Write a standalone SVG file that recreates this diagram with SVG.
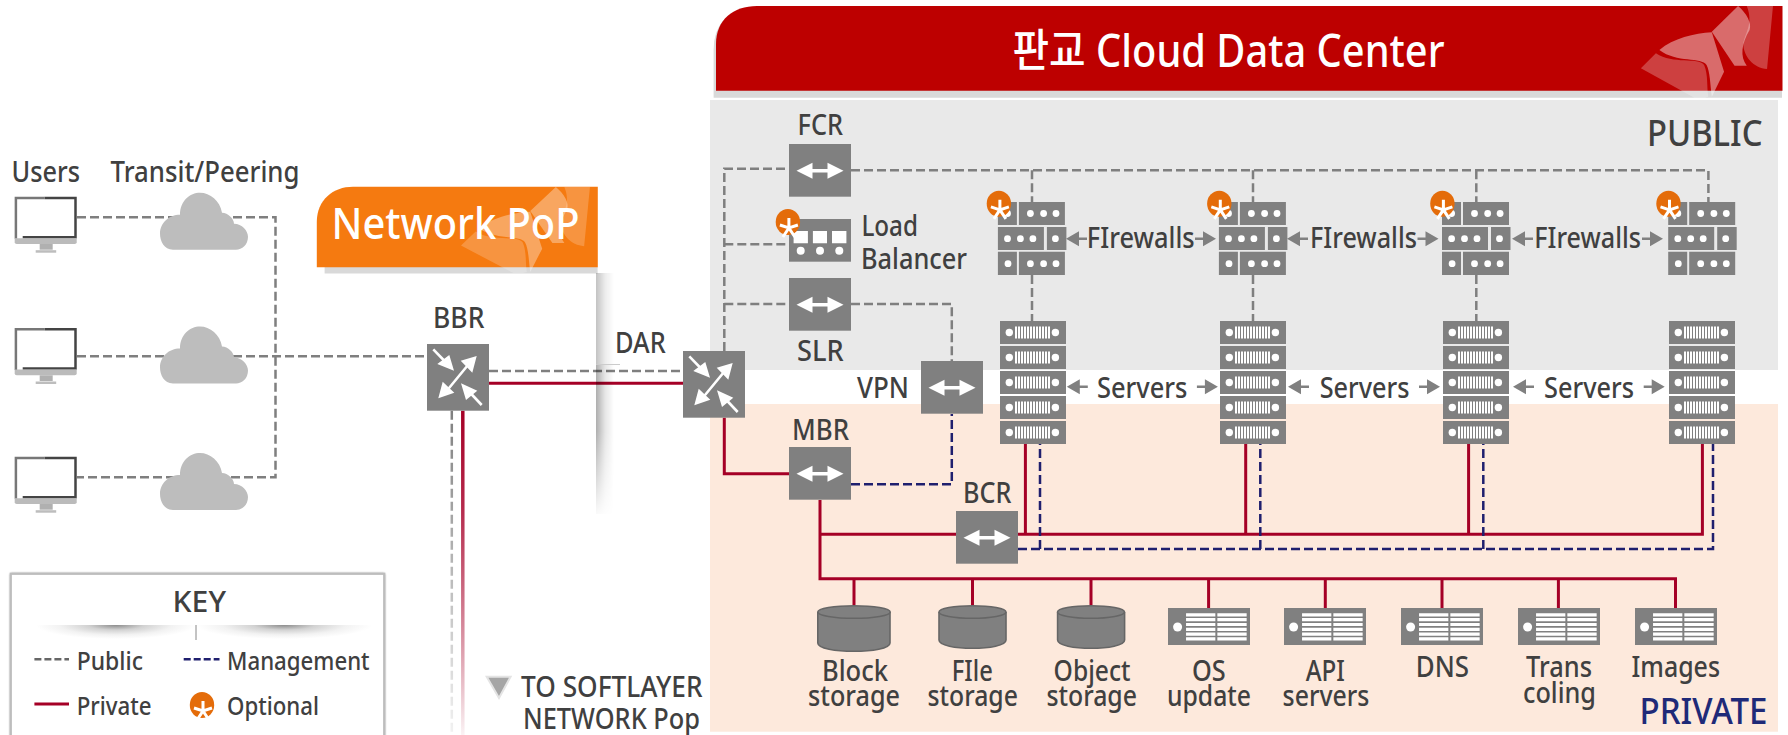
<svg xmlns="http://www.w3.org/2000/svg" xmlns:xlink="http://www.w3.org/1999/xlink" width="1788" height="735" viewBox="0 0 1788 735">
<style>
text{font-family:"Noto Sans","Noto Sans CJK KR",sans-serif;fill:#404040;font-size:28px;font-weight:500}
.box{fill:#808080}
.pub{fill:none;stroke:#7f7f7f;stroke-width:2.5;stroke-dasharray:9 4}
.mgt{fill:none;stroke:#1f1f6e;stroke-width:2.5;stroke-dasharray:9 4}
.prv{fill:none;stroke:#a50026;stroke-width:3}
.w{fill:#fff}
.ws{stroke:#fff;fill:none}
.c{fill:#808080}
</style>
<defs>
<linearGradient id="shade" x1="0" x2="1" y1="0" y2="0"><stop offset="0" stop-color="#000" stop-opacity=".32"/><stop offset=".5" stop-color="#000" stop-opacity=".1"/><stop offset="1" stop-color="#000" stop-opacity="0"/></linearGradient>
<linearGradient id="vfade" x1="0" x2="0" y1="0" y2="1"><stop offset="0" stop-color="#fff"/><stop offset=".45" stop-color="#fff"/><stop offset="1" stop-color="#fff" stop-opacity=".06"/></linearGradient>
<mask id="shadeMask" maskUnits="userSpaceOnUse" x="590" y="270" width="30" height="250"><rect x="590" y="364" width="30" height="150" fill="url(#vfade)"/><rect x="590" y="270" width="30" height="94" fill="#fff" fill-opacity=".75"/></mask>
<radialGradient id="div" cx="0" cy="0" r="1" gradientTransform="translate(.5 0) scale(.5 1)"><stop offset="0" stop-color="#8c8c8c"/><stop offset=".35" stop-color="#d2d2d2"/><stop offset=".7" stop-color="#f2f2f2"/><stop offset="1" stop-color="#fff"/></radialGradient>
<linearGradient id="fadeR" gradientUnits="userSpaceOnUse" x1="0" x2="0" y1="410" y2="735"><stop offset="0" stop-color="#a50026"/><stop offset=".3" stop-color="#b52a4c"/><stop offset="1" stop-color="#a50026" stop-opacity=".05"/></linearGradient>
<linearGradient id="fadeG" gradientUnits="userSpaceOnUse" x1="0" x2="0" y1="410" y2="735"><stop offset="0" stop-color="#7f7f7f"/><stop offset="1" stop-color="#7f7f7f" stop-opacity=".1"/></linearGradient>
<filter id="soft" x="-5%" y="-5%" width="110%" height="110%"><feGaussianBlur stdDeviation="1.2"/></filter>
<g id="monitor">
<rect x="0" y="0" width="62" height="42" fill="#fff"/>
<path d="M1.2 42V1.2H30" fill="none" stroke="#777" stroke-width="2.5"/>
<path d="M30 1.2H60.8V40.5H8" fill="none" stroke="#444" stroke-width="2.5"/>
<path d="M0 41.5H62V45.5Q62 47.3 60 47.3H2Q0 47.3 0 45.5Z" fill="#bbb"/>
<path d="M25 47.3H38L38 53H25Z" fill="#b0b0b0"/>
<rect x="21" y="53.5" width="20.5" height="2.5" fill="#bdbdbd"/>
</g>
<path id="cloud" fill="#bdbdbd" d="M13 57C4 57 0 48 0 41C0 30 9 22 20 22C20 8 30 0 40 0C50 0 60 8 62 20C68 20 74 26 74 31C82 31 88 38 88 44C88 52 82 57 76 57Z"/>
<g id="star" stroke="#fff" stroke-width="3" fill="none"><path d="M0 -10V0M-9 -3L0 0L9 -3M-6 9L0 0L6 9"/></g>
<g id="opt"><ellipse cx="0" cy="0" rx="12.2" ry="13" fill="#e46c0a"/><use xlink:href="#star" href="#star" x="1" y="6"/></g>
<g id="dar">
<rect class="box" width="62" height="66.7"/>
<path class="ws" stroke-width="2.6" d="M6.3 5.3L20 19.5M54.7 61L41 46.5M20 46.5L41 21"/>
<path class="w" d="M27 26.7L10.3 20L22.3 11ZM34 39.3L50.3 46.7L39 56ZM49.7 12L33.7 16.7L45.3 28.7ZM11.3 54.3L15.7 37.7L27.3 48.7Z"/>
</g>
<g id="sw">
<rect class="box" width="62" height="52.7"/>
<path class="w" d="M7.5 26.7L23.5 18.7V25H38.5V18.7L54.5 26.7L38.5 34.7V28.4H23.5V34.7Z"/>
</g>
<g id="fw">
<path class="box" d="M0 0H19V23H0ZM21 0H67V23H21ZM0 25H46V48H0ZM49 25H68.5V48H49ZM0 49.7H19V73H0ZM21 49.7H67V73H21Z"/>
<g class="w"><circle cx="9.6" cy="11.5" r="3.4"/><circle cx="32.5" cy="11.5" r="3.4"/><circle cx="45.7" cy="11.5" r="3.4"/><circle cx="58.1" cy="11.5" r="3.4"/>
<circle cx="9.6" cy="36.7" r="3.4"/><circle cx="22.5" cy="36.7" r="3.4"/><circle cx="35" cy="36.7" r="3.4"/><circle cx="57.5" cy="36.7" r="3.4"/>
<circle cx="10.1" cy="61.7" r="3.4"/><circle cx="32.5" cy="61.7" r="3.4"/><circle cx="45.7" cy="61.7" r="3.4"/><circle cx="58.1" cy="61.7" r="3.4"/></g>
</g>
<g id="srow"><rect class="box" width="66" height="23"/><circle class="w" cx="9.3" cy="11.5" r="3.7"/><circle class="w" cx="55.4" cy="11.5" r="3.7"/><path d="M15 11.5H50" stroke="#fff" stroke-width="12" stroke-dasharray="2 1"/></g>
<g id="server"><use xlink:href="#srow" href="#srow" y="0"/><use xlink:href="#srow" href="#srow" y="25"/><use xlink:href="#srow" href="#srow" y="50"/><use xlink:href="#srow" href="#srow" y="75"/><use xlink:href="#srow" href="#srow" y="100"/></g>
<g id="host"><rect class="box" width="82" height="37"/><circle class="w" cx="9.6" cy="19" r="4.5"/><path d="M32.7 5.3V33M64 5.3V33" stroke="#fff" stroke-width="29.3" stroke-dasharray="3.2 1.6" fill="none"/></g>
<g id="wm">
<path fill="#fff" fill-opacity=".42" d="M1350 95L1425 18C1450 40 1465 70 1458 90C1435 130 1430 170 1450 197H1415Z"/>
<path fill="#fff" fill-opacity=".25" d="M1450 18H1525L1508 207C1470 205 1440 170 1440 130C1445 100 1470 70 1450 18Z"/>
<path fill="#fff" fill-opacity=".42" d="M1200 150C1240 115 1300 100 1350 97L1385 215L1350 290C1345 250 1345 215 1335 195C1320 170 1250 190 1200 150Z"/>
<path fill="#fff" fill-opacity=".25" d="M1147 205L1190 160C1240 195 1310 170 1328 195C1340 225 1335 260 1340 290L1330 293H1300Z"/>
</g>
<g id="lhead"><path class="c" d="M0 0L13 -7.5V-1.2H21V1.2H13V7.5Z"/></g>
</defs>

<rect width="1788" height="735" fill="#fff"/>

<g id="zone-public"><rect x="710" y="100" width="1068" height="270" fill="#e9e9e9"/><text x="1647" y="145.7" textLength="115.5" lengthAdjust="spacingAndGlyphs" style="font-size:37px">PUBLIC</text></g>
<g id="zone-private"><rect x="710" y="404" width="1068" height="327.7" fill="#fde9dc"/><text x="1639.5" y="724" textLength="128" lengthAdjust="spacingAndGlyphs" style="font-size:37px;fill:#1f2a78">PRIVATE</text></g>

<g id="header-dc">
<path d="M713.6 97.7V50Q713.6 12 752 9L1782 9V97.7Z" fill="#d9d9d9"/>
<path d="M716 90.7V44C716 20 733 6 757 6H1782.5V90.7Z" fill="#bd0000"/>
<use xlink:href="#wm" href="#wm" transform="translate(1240 0) scale(.3495 .3333)"/>
<text x="1012.5" y="66.7" textLength="432" lengthAdjust="spacingAndGlyphs" style="font-size:45px;fill:#fff">판교 Cloud Data Center</text>
</g>

<g id="header-pop">
<rect x="324.6" y="267" width="273" height="6.5" fill="#d9d9d9"/>
<path d="M316.8 267.3V222C316.8 200 333 186.7 353 186.7H597.8V267.3Z" fill="#f57a10"/>
<use xlink:href="#wm" href="#wm" opacity=".8" transform="translate(69.9 181.4) scale(.341 .3127)"/>
<text x="331.5" y="239.3" textLength="248" lengthAdjust="spacingAndGlyphs" style="font-size:44px;fill:#fff">Network PoP</text>
</g>

<g id="connectors">
<path class="pub" d="M77 217.3H275.5V477.3H77"/>
<path class="pub" d="M77 356.3H427"/>
<path class="pub" d="M489 371H683"/>
<path class="prv" d="M489 383.3H683"/>
<path d="M451.8 410.7V735" fill="none" stroke="url(#fadeG)" stroke-width="2.5" stroke-dasharray="9 4"/>
<path d="M462.8 410.7V735" fill="none" stroke="url(#fadeR)" stroke-width="3.5"/>
<path class="pub" d="M724.3 351V168.7H789"/>
<path class="pub" d="M724.3 244.3H789"/>
<path class="pub" d="M724.3 304H789"/>
<path class="pub" d="M851 304H951.8V361"/>
<path class="pub" d="M851 170.3H1708.4V202"/>
<path class="pub" d="M1032 170.3V202M1253 170.3V202M1476.3 170.3V202"/>
<path class="pub" d="M1032 275V321M1253 275V321M1476.3 275V321"/>
<path class="prv" d="M724.3 417.7V473.7H789"/>
<path class="prv" d="M820 500V578.7H1675.5V608"/>
<path class="prv" d="M820 534.3H956"/>
<path class="prv" d="M1018 534.3H1702.4V443.7"/>
<path class="prv" d="M1025.4 443.7V534.3M1245.7 443.7V534.3M1468.6 443.7V534.3"/>
<path class="prv" d="M854 578.7V605M972.5 578.7V605M1091 578.7V605M1208.6 578.7V608M1325.3 578.7V608M1442 578.7V608M1558.4 578.7V608"/>
<path class="mgt" d="M851 484.3H951.8V414"/>
<path class="mgt" d="M1018 549H1713V443.7"/>
<path class="mgt" d="M1040 549V443.7M1260.3 549V443.7M1483.3 549V443.7"/>
</g>

<g id="pop-shadow" mask="url(#shadeMask)"><rect x="596" y="273" width="18" height="241" fill="url(#shade)"/></g>
<path id="pop-shadow-edge" d="M596 364.5H620" stroke="#ccc" stroke-width="1"/>

<g id="users"><text x="11.5" y="181.7" textLength="68.5" lengthAdjust="spacingAndGlyphs">Users</text>
<use xlink:href="#monitor" href="#monitor" x="14.7" y="196.7"/><use xlink:href="#monitor" href="#monitor" x="14.7" y="328"/><use xlink:href="#monitor" href="#monitor" x="14.7" y="456.7"/></g>
<g id="transit"><text x="110.5" y="181.7" textLength="189" lengthAdjust="spacingAndGlyphs">Transit/Peering</text>
<use xlink:href="#cloud" href="#cloud" x="160" y="192.7"/><use xlink:href="#cloud" href="#cloud" x="160" y="326.5"/><use xlink:href="#cloud" href="#cloud" x="160" y="453"/></g>

<g id="bbr"><text x="433" y="328.3" textLength="51.4" lengthAdjust="spacingAndGlyphs">BBR</text><use xlink:href="#dar" href="#dar" x="427" y="344"/></g>
<g id="dar-node"><text x="615" y="353.3" textLength="50.7" lengthAdjust="spacingAndGlyphs">DAR</text><use xlink:href="#dar" href="#dar" x="683" y="351"/></g>
<g id="fcr"><text x="797.5" y="135" textLength="45.5" lengthAdjust="spacingAndGlyphs">FCR</text><use xlink:href="#sw" href="#sw" x="789" y="144"/></g>
<g id="slr"><text x="797" y="360.7" textLength="46.6" lengthAdjust="spacingAndGlyphs">SLR</text><use xlink:href="#sw" href="#sw" x="789" y="278"/></g>
<g id="vpn"><text x="857" y="398.3" textLength="52" lengthAdjust="spacingAndGlyphs">VPN</text><use xlink:href="#sw" href="#sw" x="921" y="361"/></g>
<g id="mbr"><text x="792" y="440" textLength="57" lengthAdjust="spacingAndGlyphs">MBR</text><use xlink:href="#sw" href="#sw" x="789" y="447"/></g>
<g id="bcr"><text x="963" y="502.7" textLength="48.4" lengthAdjust="spacingAndGlyphs">BCR</text><use xlink:href="#sw" href="#sw" x="956" y="511"/></g>

<g id="load-balancer">
<rect class="box" x="789" y="219" width="62" height="42.7"/>
<path class="w" d="M793.6 231H807.9V243.3H793.6ZM812.9 231H827V243.3H812.9ZM832 231H846.4V243.3H832Z"/>
<circle class="w" cx="800.7" cy="250.7" r="4"/><circle class="w" cx="820" cy="250.7" r="4"/><circle class="w" cx="839.3" cy="250.7" r="4"/>
<use xlink:href="#opt" href="#opt" x="787.9" y="222"/>
<text x="861.4" y="236" textLength="56.6" lengthAdjust="spacingAndGlyphs">Load</text>
<text x="861" y="268.7" textLength="106" lengthAdjust="spacingAndGlyphs">Balancer</text>
</g>

<g id="firewall-1"><use xlink:href="#fw" href="#fw" x="997.9" y="202"/><use xlink:href="#opt" href="#opt" x="998.9" y="203.8"/></g>
<g id="firewall-2"><use xlink:href="#fw" href="#fw" x="1218.9" y="202"/><use xlink:href="#opt" href="#opt" x="1219.3" y="203.8"/></g>
<g id="firewall-3"><use xlink:href="#fw" href="#fw" x="1442" y="202"/><use xlink:href="#opt" href="#opt" x="1442.4" y="203.8"/></g>
<g id="firewall-4"><use xlink:href="#fw" href="#fw" x="1668.2" y="202"/><use xlink:href="#opt" href="#opt" x="1668.5" y="203.8"/></g>

<g id="firewall-labels">
<use xlink:href="#lhead" href="#lhead" transform="translate(1066 238.7)"/><use xlink:href="#lhead" href="#lhead" transform="translate(1216 238.7) scale(-1 1)"/>
<use xlink:href="#lhead" href="#lhead" transform="translate(1287 238.7)"/><use xlink:href="#lhead" href="#lhead" transform="translate(1438.5 238.7) scale(-1 1)"/>
<use xlink:href="#lhead" href="#lhead" transform="translate(1512 238.7)"/><use xlink:href="#lhead" href="#lhead" transform="translate(1663 238.7) scale(-1 1)"/>
<text x="1086.8" y="248.3" textLength="107.8" lengthAdjust="spacingAndGlyphs">FIrewalls</text>
<text x="1310" y="248.3" textLength="107" lengthAdjust="spacingAndGlyphs">FIrewalls</text>
<text x="1534.3" y="248.3" textLength="106.7" lengthAdjust="spacingAndGlyphs">FIrewalls</text>
</g>

<g id="server-1"><use xlink:href="#server" href="#server" x="1000" y="321"/></g>
<g id="server-2"><use xlink:href="#server" href="#server" x="1220" y="321"/></g>
<g id="server-3"><use xlink:href="#server" href="#server" x="1443" y="321"/></g>
<g id="server-4"><use xlink:href="#server" href="#server" x="1669" y="321"/></g>

<g id="server-labels">
<use xlink:href="#lhead" href="#lhead" transform="translate(1066.8 386.7)"/><use xlink:href="#lhead" href="#lhead" transform="translate(1217.9 386.7) scale(-1 1)"/>
<use xlink:href="#lhead" href="#lhead" transform="translate(1288 386.7)"/><use xlink:href="#lhead" href="#lhead" transform="translate(1440 386.7) scale(-1 1)"/>
<use xlink:href="#lhead" href="#lhead" transform="translate(1513 386.7)"/><use xlink:href="#lhead" href="#lhead" transform="translate(1664.7 386.7) scale(-1 1)"/>
<text x="1097" y="398.3" textLength="90.5" lengthAdjust="spacingAndGlyphs">Servers</text>
<text x="1319.7" y="398.3" textLength="89.8" lengthAdjust="spacingAndGlyphs">Servers</text>
<text x="1544" y="398.3" textLength="90" lengthAdjust="spacingAndGlyphs">Servers</text>
</g>

<g id="block-storage">
<path d="M817.8 612V643C817.8 654 890 654 890 643V612" fill="#808080" stroke="#666" stroke-width="1.6"/><ellipse cx="854" cy="612" rx="36.2" ry="6.3" fill="#808080" stroke="#666" stroke-width="1.6"/>
<text x="822" y="680.7" textLength="66" lengthAdjust="spacingAndGlyphs">Block</text><text x="808" y="706" textLength="92" lengthAdjust="spacingAndGlyphs">storage</text></g>
<g id="file-storage">
<path d="M939 612V640C939 651 1006 651 1006 640V612" fill="#808080" stroke="#666" stroke-width="1.6"/><ellipse cx="972.5" cy="612" rx="33.5" ry="6.3" fill="#808080" stroke="#666" stroke-width="1.6"/>
<text x="951.8" y="680.7" textLength="41" lengthAdjust="spacingAndGlyphs">FIle</text><text x="927.5" y="706" textLength="90.4" lengthAdjust="spacingAndGlyphs">storage</text></g>
<g id="object-storage">
<path d="M1057.6 612V640C1057.6 651 1124.6 651 1124.6 640V612" fill="#808080" stroke="#666" stroke-width="1.6"/><ellipse cx="1091" cy="612" rx="33.5" ry="6.3" fill="#808080" stroke="#666" stroke-width="1.6"/>
<text x="1053.6" y="680.7" textLength="76.8" lengthAdjust="spacingAndGlyphs">Object</text><text x="1046.4" y="706" textLength="90.6" lengthAdjust="spacingAndGlyphs">storage</text></g>
<g id="os-update"><use xlink:href="#host" href="#host" x="1168" y="608"/><text x="1192" y="680.7" textLength="33.7" lengthAdjust="spacingAndGlyphs">OS</text><text x="1167" y="706" textLength="84" lengthAdjust="spacingAndGlyphs">update</text></g>
<g id="api-servers"><use xlink:href="#host" href="#host" x="1284" y="608"/><text x="1305.7" y="680.7" textLength="39.2" lengthAdjust="spacingAndGlyphs">API</text><text x="1282.6" y="706" textLength="86.7" lengthAdjust="spacingAndGlyphs">servers</text></g>
<g id="dns"><use xlink:href="#host" href="#host" x="1401" y="608"/><text x="1415.8" y="677.3" textLength="53.2" lengthAdjust="spacingAndGlyphs">DNS</text></g>
<g id="transcoding"><use xlink:href="#host" href="#host" x="1518" y="608"/><text x="1526" y="677.3" textLength="66" lengthAdjust="spacingAndGlyphs">Trans</text><text x="1523" y="703.3" textLength="73" lengthAdjust="spacingAndGlyphs">coling</text></g>
<g id="images"><use xlink:href="#host" href="#host" x="1635" y="608"/><text x="1631.5" y="677.3" textLength="88.5" lengthAdjust="spacingAndGlyphs">Images</text></g>

<g id="to-softlayer">
<path d="M486.7 676.7H510.6L499 698Z" fill="#a6a6a6" stroke="#e4e4e4" stroke-width="2"/>
<text x="521" y="696.7" textLength="181.5" lengthAdjust="spacingAndGlyphs">TO SOFTLAYER</text>
<text x="523" y="729" textLength="177" lengthAdjust="spacingAndGlyphs">NETWORK Pop</text>
</g>

<g id="key">
<rect x="10" y="573" width="375" height="176" rx="2" fill="#999" filter="url(#soft)"/>
<rect x="10.8" y="573.8" width="373.4" height="175" fill="#fff" stroke="#bdbdbd" stroke-width="2.2"/>
<text x="172.6" y="611.7" textLength="53.4" lengthAdjust="spacingAndGlyphs">KEY</text>
<rect x="35.8" y="625" width="160" height="14" fill="url(#div)"/><rect x="196" y="625" width="176" height="14" fill="url(#div)"/>
<path d="M196 625V640" stroke="#888" stroke-width="1"/>
<path class="pub" d="M34.4 659.3H69" style="stroke-dasharray:7 3;stroke:#666"/>
<path class="mgt" d="M183.7 659.3H219.5" style="stroke-dasharray:7 3"/>
<path class="prv" d="M34.4 704H69"/>
<text x="76.7" y="670" textLength="66.3" lengthAdjust="spacingAndGlyphs" style="font-size:26px">Public</text>
<text x="227" y="670" textLength="142.6" lengthAdjust="spacingAndGlyphs" style="font-size:26px">Management</text>
<text x="76.7" y="715" textLength="75" lengthAdjust="spacingAndGlyphs" style="font-size:26px">Private</text>
<text x="227" y="715" textLength="92" lengthAdjust="spacingAndGlyphs" style="font-size:26px">Optional</text>
<use xlink:href="#opt" href="#opt" x="202" y="705"/>
</g>
</svg>
